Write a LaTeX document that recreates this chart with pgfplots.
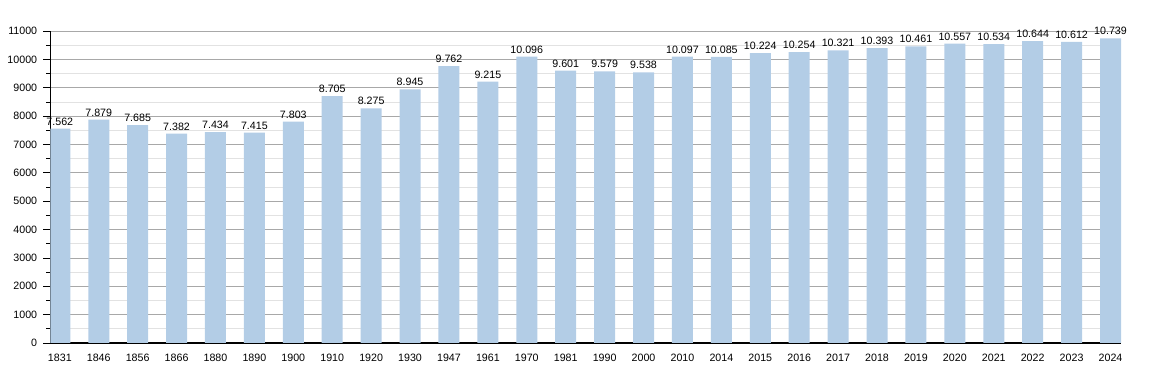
\documentclass[border=0pt]{standalone}
\usepackage{pgfplots}
\pgfplotsset{compat=1.18}
\usepackage{fontspec}
\setmainfont{Liberation Sans}
\definecolor{barblue}{HTML}{B3CDE6}
\definecolor{majgrid}{HTML}{A8A8A8}
\definecolor{mingrid}{HTML}{E2E2E2}
\begin{document}
\begin{tikzpicture}[x=0.75pt,y=0.75pt]
\useasboundingbox (-50.5,-30) rectangle (1099.5,343);
\begin{axis}[
  anchor=south west, at={(0,0)},
  scale only axis,
  width=1070.5*0.75pt, height=312*0.75pt,
  xmin=-0.24, xmax=27.27,
  ymin=0, ymax=11000,
  axis lines*=left,
  axis line style={black, line width=0.9pt},
  ytick distance=1000,
  scaled y ticks=false,
  minor y tick num=1,
  ymajorgrids, yminorgrids,
  major grid style={majgrid, line width=0.6pt},
  minor grid style={mingrid, line width=0.6pt},
  xtick={0,...,27},
  xticklabels={1831,1846,1856,1866,1880,1890,1900,1910,1920,1930,1947,1961,1970,1981,1990,2000,2010,2014,2015,2016,2017,2018,2019,2020,2021,2022,2023,2024},
  xtick style={draw=none},
  ytick style={black, line width=0.6pt},
  tick align=outside,
  major tick length=5.5pt,
  minor tick length=3pt,
  xtick pos=bottom, ytick pos=left,
  tick label style={font=\fontsize{8}{9}\selectfont},
  /pgf/number format/assume math mode=true,
  yticklabel style={xshift=-1pt, /pgf/number format/1000 sep={}},
  xticklabel style={yshift=1pt},
  clip=true,
]
\addplot[ybar, bar width=15.75pt, fill=barblue, draw=none,
  nodes near coords,
  nodes near coords style={font=\fontsize{8}{9}\selectfont, black, yshift=-1pt,
    /pgf/number format/1000 sep={.}, /pgf/number format/assume math mode=true},
] coordinates {
(0,7562) (1,7879) (2,7685) (3,7382) (4,7434) (5,7415) (6,7803) (7,8705)
(8,8275) (9,8945) (10,9762) (11,9215) (12,10096) (13,9601) (14,9579) (15,9538)
(16,10097) (17,10085) (18,10224) (19,10254) (20,10321) (21,10393) (22,10461)
(23,10557) (24,10534) (25,10644) (26,10612) (27,10739)
};
\end{axis}
\end{tikzpicture}
\end{document}
